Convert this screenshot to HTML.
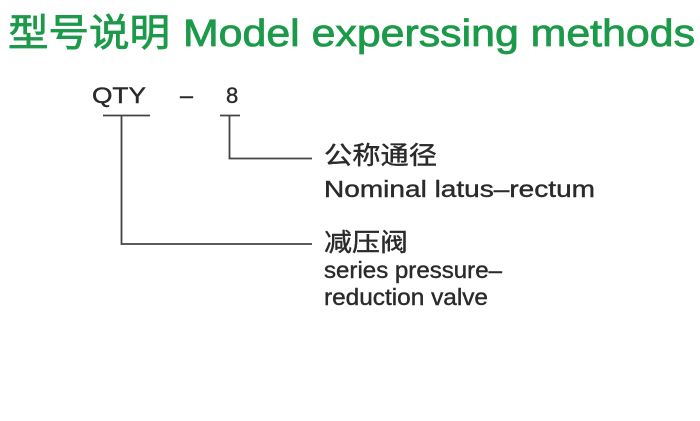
<!DOCTYPE html>
<html><head><meta charset="utf-8"><style>
html,body{margin:0;padding:0;background:#fff;}
svg{display:block}
</style></head><body>
<svg width="700" height="421" viewBox="0 0 700 421" xmlns="http://www.w3.org/2000/svg">
<rect width="700" height="421" fill="#fff"/>
<g fill="#1c9a4a" stroke="#1c9a4a" stroke-width="0.8">
<text x="8" y="46" font-family="Liberation Sans, Noto Sans CJK SC, sans-serif" font-size="38" textLength="162" lengthAdjust="spacingAndGlyphs">型号说明</text>
<text x="183" y="46" font-family="Liberation Sans, sans-serif" font-size="38" textLength="512" lengthAdjust="spacingAndGlyphs">Model experssing methods</text>
</g>
<g font-family="Liberation Sans, Noto Sans CJK SC, sans-serif" fill="#2a2a2a" stroke="#2a2a2a" stroke-width="0.4">
<text x="92" y="103" font-size="22" textLength="54" lengthAdjust="spacingAndGlyphs">QTY</text>
<text x="180" y="103" font-size="22" textLength="13" lengthAdjust="spacingAndGlyphs">–</text>
<text x="226" y="103" font-size="22">8</text>
<text x="324" y="164" font-size="25" textLength="113" lengthAdjust="spacingAndGlyphs">公称通径</text>
<text x="324" y="197" font-size="23" textLength="271" lengthAdjust="spacingAndGlyphs">Nominal latus–rectum</text>
<text x="324" y="251" font-size="25" textLength="84" lengthAdjust="spacingAndGlyphs">减压阀</text>
<text x="324" y="278" font-size="23" textLength="178" lengthAdjust="spacingAndGlyphs">series pressure–</text>
<text x="324" y="305" font-size="23" textLength="164" lengthAdjust="spacingAndGlyphs">reduction valve</text>
</g>
<g stroke="#444" stroke-width="1.8" fill="none">
<line x1="103" y1="115.5" x2="150" y2="115.5"/>
<polyline points="121.5,115.5 121.5,244 312,244"/>
<line x1="220" y1="115.5" x2="240" y2="115.5"/>
<polyline points="229.5,115.5 229.5,158.5 312,158.5"/>
</g>
</svg>
</body></html>
